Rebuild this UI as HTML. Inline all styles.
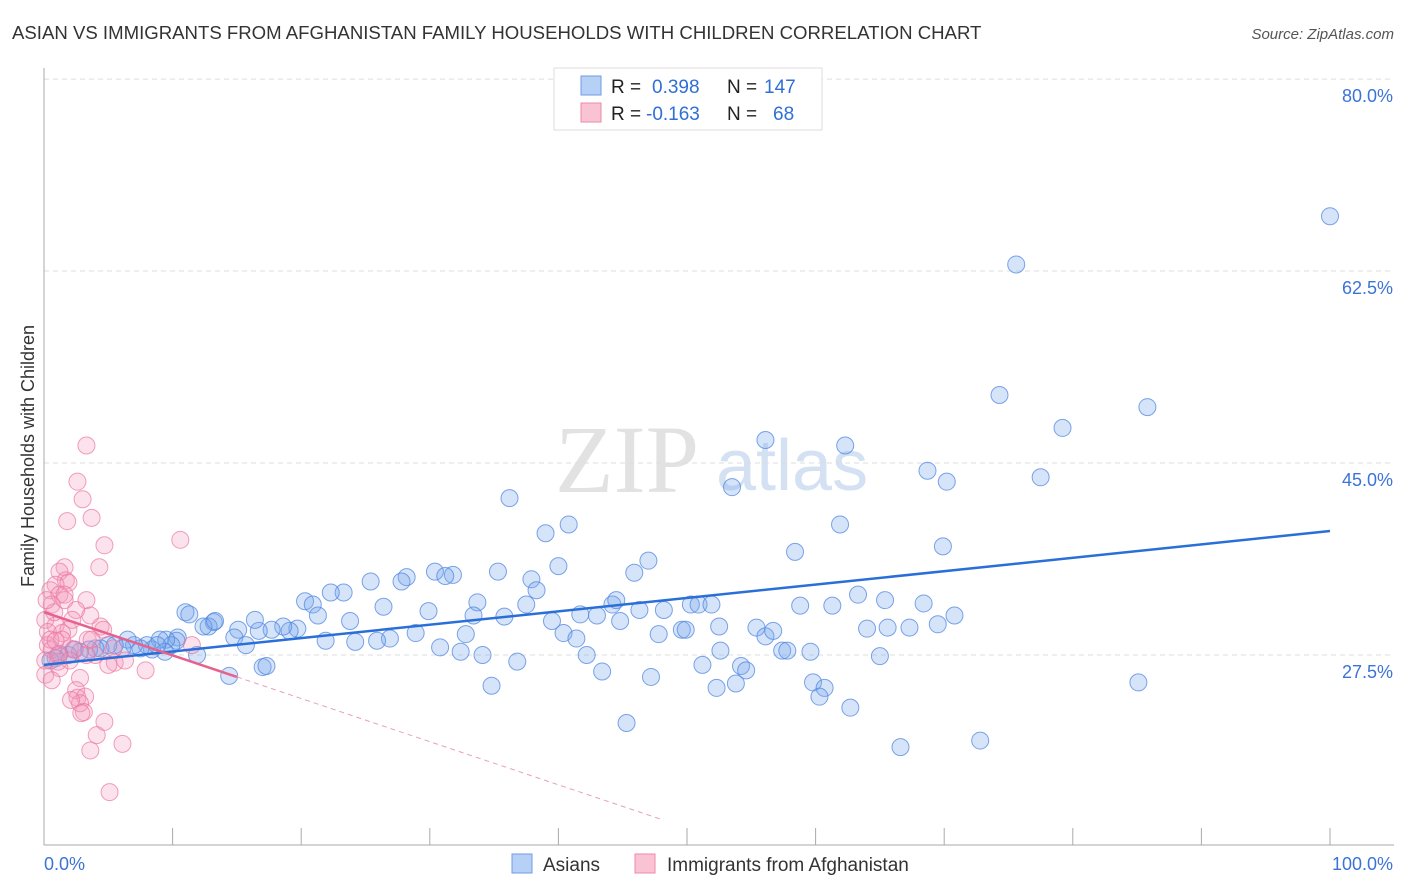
<!DOCTYPE html>
<html><head><meta charset="utf-8"><style>
body{margin:0;background:#fff;font-family:"Liberation Sans",sans-serif;}
svg{display:block}
</style></head><body>
<svg id="chart" width="1406" height="892">
<text x="12" y="39" font-size="18.6" fill="#333">ASIAN VS IMMIGRANTS FROM AFGHANISTAN FAMILY HOUSEHOLDS WITH CHILDREN CORRELATION CHART</text>
<text x="1394" y="39" font-size="15" fill="#555" text-anchor="end" font-style="italic">Source: ZipAtlas.com</text>
<text x="555" y="492" font-size="96" fill="#e2e2e2" font-family="Liberation Serif,serif">ZIP</text>
<text x="716" y="490" font-size="72" fill="#d3e1f3">atlas</text>
<text transform="translate(34,456) rotate(-90)" font-size="18" fill="#333" text-anchor="middle">Family Households with Children</text>
<g id="grid"></g><g id="axes"></g><g id="lines"></g><g id="pts"></g>
<g>
<rect x="554" y="68" width="268" height="62" fill="#fff" stroke="#ddd"/>
<rect x="581" y="76" width="20" height="19" fill="#b7d0f5" stroke="#6f9de6"/>
<rect x="581" y="103" width="20" height="19" fill="#f9c3d4" stroke="#ee88aa"/>
<text x="611" y="93" font-size="19" fill="#222">R = <tspan fill="#2f6fd6" x="652">0.398</tspan><tspan x="727">N =</tspan><tspan fill="#2f6fd6" x="764">147</tspan></text>
<text x="611" y="120" font-size="19" fill="#222">R = <tspan fill="#2f6fd6" x="646">-0.163</tspan><tspan x="727">N =</tspan><tspan fill="#2f6fd6" x="773">68</tspan></text>
</g>
<g>
<rect x="512" y="854" width="20" height="19" fill="#b7d0f5" stroke="#6f9de6"/>
<text x="543" y="871" font-size="19" fill="#333">Asians</text>
<rect x="635" y="854" width="20" height="19" fill="#f9c3d4" stroke="#ee88aa"/>
<text x="667" y="871" font-size="19" fill="#333">Immigrants from Afghanistan</text>
</g>
</svg>
<script>
const yTicks=[80,62.5,45,27.5];
const yTickLabels=["80.0%","62.5%","45.0%","27.5%"];
const xTicks=[0,10,20,30,40,50,60,70,80,90,100];
const xEndLabels=["0.0%","100.0%"];
const asianX=[100,75.6,74.3,85.8,79.2,56.1,62.3,53.5,68.7,70.2,77.5,36.2,39.0,40.8,61.9,58.4,69.9,47.0,40.0,45.9,35.3,37.9,38.3,30.4,31.8,31.2,28.2,27.8,25.4,23.3,22.3,20.3,20.9,26.4,29.9,33.7,33.4,35.8,37.5,41.7,43.0,44.2,44.5,46.3,48.2,50.3,50.9,51.9,58.8,61.3,63.3,65.4,68.4,70.8,69.5,65.6,67.3,64.0,55.4,56.1,56.7,52.5,49.6,49.9,47.8,44.8,39.5,40.4,41.4,42.2,32.8,30.8,28.9,26.9,25.9,24.2,23.8,21.9,21.3,19.7,19.1,18.6,17.7,16.7,16.4,15.1,14.8,13.2,12.8,12.4,10.4,10.3,9.9,9.5,9.0,8.4,8.0,7.5,7.0,6.5,6.1,5.5,5.0,4.4,4.0,3.5,2.8,2.3,1.9,1.2,0.9,0.5,11.0,11.3,13.3,15.7,11.9,14.4,17.0,17.3,32.4,34.1,36.8,43.4,47.2,51.2,52.3,53.8,54.2,54.6,52.6,57.4,57.8,59.6,59.8,60.7,60.3,62.7,65.0,66.6,72.8,85.1,45.3,34.8,9.4,8.8];
const asianY=[67.5,63.1,51.2,50.1,48.2,47.1,46.6,42.8,44.3,43.3,43.7,41.8,38.6,39.4,39.4,36.9,37.4,36.1,35.6,35.0,35.1,34.4,33.4,35.1,34.8,34.7,34.6,34.2,34.2,33.2,33.2,32.4,32.1,31.9,31.5,32.3,31.1,31.0,32.1,31.2,31.1,32.1,32.5,31.6,31.6,32.1,32.1,32.1,32.0,32.0,33.0,32.5,32.2,31.1,30.3,30.0,30.0,29.9,30.0,29.2,29.7,30.1,29.8,29.8,29.4,30.6,30.6,29.5,29.0,27.5,29.4,28.2,29.5,29.0,28.8,28.7,30.6,28.8,31.1,29.9,29.7,30.1,29.8,29.7,30.7,29.8,29.1,30.5,30.1,30.1,29.1,28.8,28.4,28.9,28.9,28.0,28.4,28.1,28.4,28.9,28.1,28.4,28.4,28.1,28.1,28.0,27.8,28.0,27.5,27.6,27.2,27.0,31.4,31.2,30.6,28.4,27.5,25.6,26.4,26.5,27.8,27.5,26.9,26.0,25.5,26.6,24.5,24.9,26.5,26.1,27.9,27.9,27.9,27.8,25.0,24.5,23.7,22.7,27.4,19.1,19.7,25.0,21.3,24.7,27.8,28.4];
const afgX=[3.3,2.6,3.0,1.8,3.7,4.7,4.3,10.6,1.6,1.2,1.7,1.9,0.9,0.5,1.2,1.6,3.3,2.5,0.6,3.6,0.1,0.9,1.9,0.3,1.4,4.4,0.3,0.6,0.1,4.0,2.0,1.1,5.5,5.4,4.6,3.3,6.3,7.9,5.0,2.8,2.5,2.6,3.2,2.8,2.1,3.1,2.9,4.1,4.7,3.6,6.1,5.1,11.5,2.4,1.4,3.4,0.8,0.2,1.1,2.2,3.7,1.6,0.5,0.1,0.9,2.0,1.2,0.6];
const afgY=[46.6,43.3,41.7,39.7,40.0,37.5,35.5,38.0,35.5,35.1,34.3,34.1,33.9,33.4,33.0,32.5,32.5,31.6,32.1,31.1,30.7,30.2,29.8,29.6,29.5,30.1,28.4,28.0,27.0,27.5,28.1,26.9,26.8,28.1,29.8,27.5,27.0,26.1,26.6,25.4,24.3,23.6,23.7,23.1,23.4,22.3,22.2,20.2,21.4,18.8,19.4,15.0,28.4,28.0,28.9,28.9,31.4,32.5,27.5,30.7,28.9,33.0,28.9,25.7,28.8,27.0,26.3,25.2];
const asianTrend=[26.6,38.8];
const afgTrend=[31.4,25.5];

const NS="http://www.w3.org/2000/svg";
const X=v=>44+v*12.86;
const Y=v=>655-(v-27.5)*10.97;
function mk(tag,attrs,parent){const e=document.createElementNS(NS,tag);for(const k in attrs)e.setAttribute(k,attrs[k]);document.getElementById(parent).appendChild(e);return e;}

yTicks.forEach((t,i)=>{
  const g=mk('line',{x1:44,x2:1394,y1:Y(t),y2:Y(t),stroke:'#ddd','stroke-dasharray':'5,4'},'grid');
  
  
  const l=mk('text',{x:1393,y:Y(t)+23,'text-anchor':'end','font-size':18,fill:'#3b74d6'},'grid');
  l.textContent=yTickLabels[i];
  
  
});
const ya=mk('line',{x1:44,x2:44,y1:68,y2:845,stroke:'#aaa'},'axes');


const xa=mk('line',{x1:44,x2:1394,y1:845,y2:845,stroke:'#aaa'},'axes');


xTicks.forEach(t=>{
  const k=mk('line',{x1:X(t),x2:X(t),y1:828,y2:845,stroke:'#aaa'},'axes');
  
  
});
const xl0=mk('text',{x:44,y:870,'font-size':18,fill:'#3b74d6'},'axes');xl0.textContent=xEndLabels[0];


const xl1=mk('text',{x:1393,y:870,'font-size':18,fill:'#3b74d6','text-anchor':'end'},'axes');xl1.textContent=xEndLabels[1];



asianX.forEach((v,i)=>{
  const c=mk('circle',{cx:X(v),cy:Y(asianY[i]),r:8.5,fill:'rgba(120,165,235,0.3)',stroke:'rgba(80,135,225,0.75)','stroke-width':1},'pts');
  
  
});
afgX.forEach((v,i)=>{
  const c=mk('circle',{cx:X(v),cy:Y(afgY[i]),r:8.5,fill:'rgba(245,150,185,0.28)',stroke:'rgba(235,120,160,0.7)','stroke-width':1},'pts');
  
  
});
const bt=mk('line',{x1:X(0),y1:Y(asianTrend[0]),x2:X(100),y2:Y(asianTrend[1]),stroke:'#2a6fd8','stroke-width':2.5},'pts');


const slope=(afgTrend[1]-afgTrend[0])/15;
const pt=mk('line',{x1:X(0),y1:Y(afgTrend[0]),x2:X(15),y2:Y(afgTrend[1]),stroke:'#e8608c','stroke-width':2.5},'pts');


const xEnd=48;
const pd=mk('line',{x1:X(15),y1:Y(afgTrend[1]),x2:X(xEnd),y2:Y(afgTrend[0]+slope*xEnd),stroke:'#e8a0b8','stroke-width':1,'stroke-dasharray':'5,4'},'pts');


</script>
</body></html>
